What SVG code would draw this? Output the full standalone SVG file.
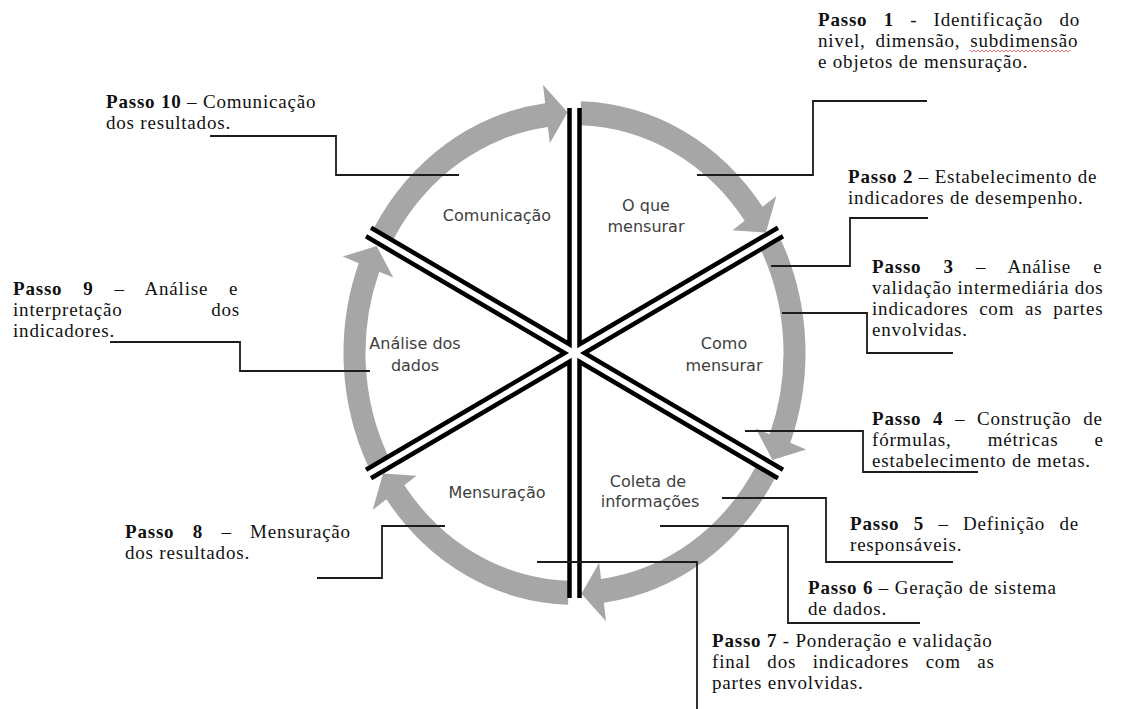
<svg xmlns="http://www.w3.org/2000/svg" width="1138" height="709" viewBox="0 0 1138 709">
<style>
.t{font-family:"Liberation Serif","Times New Roman",serif;font-size:19px;letter-spacing:0.8px;fill:#111}
.b{font-weight:bold}
.l{font-family:"DejaVu Sans",Verdana,sans-serif;font-size:16px;fill:#404040;text-anchor:middle}
.c{fill:none;stroke:#1c1c1c;stroke-width:1.8}
.ring{fill:#a6a6a6}
.v{fill:none;stroke:#000;stroke-width:4.5;stroke-linejoin:miter}
</style>
<rect width="1138" height="709" fill="#fff"/>
<g id="cycle">
<g id="ring" class="ring" transform="translate(574.5 353) scale(1 1.09)">
<path d="M6.45,-230.91 A231,231 0 0 1 188.06,-134.14 L201.90,-144.01 L191.39,-110.5 L157.94,-112.66 L170.15,-121.37 A209,209 0 0 0 5.84,-208.92Z"/>
<path d="M206.55,-103.43 A231,231 0 0 1 215.80,82.41 L231.68,88.47 L197.95,98.27 L181.23,69.21 L195.25,74.56 A209,209 0 0 0 186.88,-93.58Z"/>
<path d="M200.45,114.80 A231,231 0 0 1 29.35,229.13 L31.51,245.99 L6.94,220.89 L24.65,192.43 L26.56,207.30 A209,209 0 0 0 181.36,103.87Z"/>
<path d="M-6.45,230.91 A231,231 0 0 1 -188.06,134.14 L-201.90,144.01 L-191.39,110.5 L-157.94,112.66 L-170.15,121.37 A209,209 0 0 0 -5.84,208.92Z"/>
<path d="M-206.55,103.43 A231,231 0 0 1 -215.80,-82.41 L-231.68,-88.47 L-197.95,-98.27 L-181.23,-69.21 L-195.25,-74.56 A209,209 0 0 0 -186.88,93.58Z"/>
<path d="M-200.45,-114.80 A231,231 0 0 1 -29.35,-229.13 L-31.51,-245.99 L-6.94,-220.89 L-24.65,-192.43 L-26.56,-207.30 A209,209 0 0 0 -181.36,-103.87Z"/>
</g>
<g id="spokes" class="v" transform="translate(574.5 353)">
<path d="M5,-245 L5,-8.74 L203.47,-125.31"/>
<path d="M208.53,-116.69 L9.87,0 L208.53,116.69"/>
<path d="M5,245 L5,8.74 L203.47,125.31"/>
<path d="M-5,245 L-5,8.74 L-203.47,125.31"/>
<path d="M-208.53,116.69 L-9.87,0 L-208.53,-116.69"/>
<path d="M-203.47,-125.31 L-5,-8.74 L-5,-245"/>
</g>
</g>
<g id="phases">
<text id="ph-comunicacao" class="l" x="497" y="221">Comunicação</text>
<text id="ph-oque" class="l" x="646" y="211">O que<tspan x="646" dy="21">mensurar</tspan></text>
<text id="ph-como" class="l" x="724" y="349">Como<tspan x="724" dy="22">mensurar</tspan></text>
<text id="ph-analise" class="l" x="415" y="349">Análise dos<tspan x="415" dy="22">dados</tspan></text>
<text id="ph-coleta" class="l" x="648" y="487">Coleta de<tspan x="650" dy="20">informações</tspan></text>
<text id="ph-mensuracao" class="l" x="497" y="498">Mensuração</text>
</g>
<g id="connectors" class="c">
<polyline points="927,101 813,101 813,175 697,175"/>
<polyline points="928,218 850,218 850,266 771,266"/>
<polyline points="782,313 867,313 867,353 953,353"/>
<polyline points="745,431 863,431 863,472 978,472"/>
<polyline points="722,498 826,498 826,562 953,562"/>
<polyline points="660,526 788,526 788,623 920,623"/>
<polyline points="537,562 697,562 697,709"/>
<polyline points="445,526 382,526 382,578 317,578"/>
<polyline points="110,342 240,342 240,371 370,371"/>
<polyline points="210,136 336,136 336,175 459,175"/>
</g>
<g id="passo1">
<text class="t" x="818" y="26" style="word-spacing:10.7px"><tspan class="b">Passo 1</tspan> - Identificação do</text>
<text class="t" x="818" y="47" style="word-spacing:4.4px">nivel, dimensão, subdimensão</text>
<text class="t" x="818" y="68">e objetos de mensuração.</text>
<path d="M970 50 l2 2 l2 -2 l2 2 l2 -2 l2 2 l2 -2 l2 2 l2 -2 l2 2 l2 -2 l2 2 l2 -2 l2 2 l2 -2 l2 2 l2 -2 l2 2 l2 -2 l2 2 l2 -2 l2 2 l2 -2 l2 2 l2 -2 l2 2 l2 -2 l2 2 l2 -2 l2 2 l2 -2 l2 2 l2 -2 l2 2 l2 -2 l2 2 l2 -2 l2 2 l2 -2 l2 2 l2 -2 l2 2 l2 -2 l2 2 l2 -2 l2 2 l2 -2 l2 2 l2 -2 l2 2 l2 -2" fill="none" stroke="#e06060" stroke-width="0.9"/>
</g>
<g id="passo2">
<text class="t" x="848" y="183"><tspan class="b">Passo 2</tspan> – Estabelecimento de</text>
<text class="t" x="848" y="204">indicadores de desempenho.</text>
</g>
<g id="passo3">
<text class="t" x="872" y="273" style="word-spacing:16.6px"><tspan class="b">Passo 3</tspan> – Análise e</text>
<text class="t" x="872" y="294">validação intermediária dos</text>
<text class="t" x="872" y="315" style="word-spacing:5.2px">indicadores com as partes</text>
<text class="t" x="872" y="336">envolvidas.</text>
</g>
<g id="passo4">
<text class="t" x="872" y="425" style="word-spacing:6.1px"><tspan class="b">Passo 4</tspan> – Construção de</text>
<text class="t" x="872" y="446" style="word-spacing:30.6px">fórmulas, métricas e</text>
<text class="t" x="872" y="467">estabelecimento de metas.</text>
</g>
<g id="passo5">
<text class="t" x="850" y="530" style="word-spacing:8.8px"><tspan class="b">Passo 5</tspan> – Definição de</text>
<text class="t" x="850" y="551">responsáveis.</text>
</g>
<g id="passo6">
<text class="t" x="808" y="594"><tspan class="b">Passo 6</tspan> – Geração de sistema</text>
<text class="t" x="808" y="615">de dados.</text>
</g>
<g id="passo7">
<text class="t" x="712" y="647"><tspan class="b">Passo 7</tspan> - Ponderação e validação</text>
<text class="t" x="712" y="668" style="word-spacing:11px">final dos indicadores com as</text>
<text class="t" x="712" y="689">partes envolvidas.</text>
</g>
<g id="passo8">
<text class="t" x="125" y="538" style="word-spacing:12.8px"><tspan class="b">Passo 8</tspan> – Mensuração</text>
<text class="t" x="125" y="559">dos resultados.</text>
</g>
<g id="passo9">
<text class="t" x="13" y="295" style="word-spacing:15.3px"><tspan class="b">Passo 9</tspan> – Análise e</text>
<text class="t" x="13" y="316">interpretação</text>
<text class="t" x="240" y="316" text-anchor="end">dos</text>
<text class="t" x="13" y="337">indicadores.</text>
</g>
<g id="passo10">
<text class="t" x="106" y="108"><tspan class="b">Passo 10</tspan> – Comunicação</text>
<text class="t" x="106" y="129">dos resultados.</text>
</g>
</svg>
